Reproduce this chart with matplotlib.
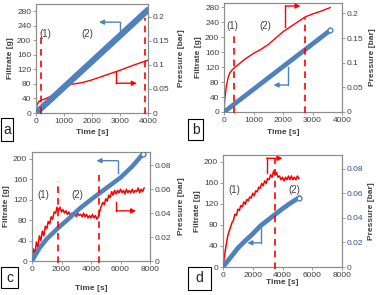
import matplotlib
matplotlib.use("Agg")
import matplotlib.pyplot as plt
from matplotlib.patches import Rectangle

plt.rcParams['font.family'] = ['Liberation Sans', 'DejaVu Sans']

# ---------------- data ----------------
# panel a
a_t_fil = [0, 4000]
a_fil = [0, 284]
a_t_p = [0, 30, 100, 200, 350, 500, 700, 950, 1100, 1300, 1500, 1700, 2000, 2500, 3000, 3500, 4000]
a_p = [0, 0.016, 0.024, 0.027, 0.030, 0.034, 0.041, 0.0515, 0.058, 0.060, 0.062, 0.064, 0.069, 0.079, 0.089, 0.100, 0.110]
a_dash = [190, 3900]

# panel b
b_t_fil = [0, 3600]
b_fil = [0, 218]
b_t_p = [0, 25, 80, 140, 200, 300, 400, 500, 700, 1000, 1250, 1500, 1750, 2000, 2300, 2500, 2750, 3000, 3300, 3600]
b_p = [0, 0.025, 0.052, 0.070, 0.080, 0.087, 0.092, 0.097, 0.107, 0.119, 0.127, 0.137, 0.150, 0.163, 0.175, 0.183, 0.193, 0.199, 0.205, 0.212]
b_dash = [340, 2760]

# panel c
c_t_fil = [0, 500, 1000, 1750, 2500, 3250, 4000, 4600, 5300, 6000, 6800, 7550]
c_fil = [0, 25, 43, 64, 83, 103, 120, 133, 148, 163, 185, 210]
c_t_p = list(range(0, 7700, 100))
c_p = [0.000, 0.010, 0.006, 0.016, 0.011, 0.021, 0.017, 0.025, 0.021, 0.029,
       0.027, 0.033, 0.031, 0.037, 0.035, 0.041, 0.040, 0.045, 0.042, 0.045,
       0.041, 0.043, 0.040, 0.042, 0.039, 0.041, 0.038, 0.040, 0.038, 0.040,
       0.037, 0.040, 0.038, 0.039, 0.037, 0.040, 0.037, 0.039, 0.036, 0.038,
       0.036, 0.039, 0.036, 0.038, 0.035, 0.037, 0.042, 0.046, 0.049, 0.047,
       0.052, 0.050, 0.055, 0.053, 0.058, 0.055, 0.059, 0.056, 0.059, 0.057,
       0.060, 0.057, 0.059, 0.056, 0.060, 0.057, 0.059, 0.057, 0.060, 0.057,
       0.059, 0.058, 0.061, 0.057, 0.060, 0.058, 0.061]
c_dash = [1730, 4550]

# panel d
d_t_fil = [0, 500, 1000, 1500, 2000, 2500, 3000, 3500, 4000, 4500, 5100]
d_fil = [0, 18, 36, 50, 63, 78, 89, 100, 111, 121, 132]
d_t_p = list(range(0, 5200, 100))
d_p = [0.000, 0.009, 0.017, 0.024, 0.029, 0.032, 0.036, 0.038, 0.043, 0.042,
       0.047, 0.046, 0.050, 0.049, 0.053, 0.051, 0.055, 0.054, 0.057, 0.056,
       0.060, 0.058, 0.062, 0.061, 0.065, 0.064, 0.068, 0.066, 0.070, 0.068,
       0.072, 0.071, 0.075, 0.073, 0.078, 0.075, 0.077, 0.073, 0.074, 0.071,
       0.073, 0.070, 0.073, 0.071, 0.074, 0.071, 0.074, 0.071, 0.073, 0.071,
       0.074, 0.072]
d_dash = [3480]

x_ticks_ab = [0, 1000, 2000, 3000, 4000]
x_ticks_cd = [0, 2000, 4000, 6000, 8000]
y_ticks_ab = [0, 40, 80, 120, 160, 200, 240, 280]
y_ticks_cd = [0, 40, 80, 120, 160, 200]
r_ticks_ab = [0, 0.05, 0.1, 0.15, 0.2]
r_labels_ab = ['0', '0.05', '0.1', '0.15', '0.2']
r_ticks_cd = [0, 0.02, 0.04, 0.06, 0.08]
r_labels_cd = ['0', '0.02', '0.04', '0.06', '0.08']

# ---------------- figure ----------------
W, H = 377, 295
fig = plt.figure(figsize=(W / 100, H / 100), dpi=100)

BLUE = '#4F81BD'
RED = '#FF0000'
GRAY = '#8C8C8C'
TXT = '#404040'


def pax(l, r, t, b):
    return fig.add_axes([l / W, 1 - b / H, (r - l) / W, (b - t) / H])


def style(ax, ax2, xlim, xt, ylim, yt, rlim, rt, rl, rcolor, xpad, rpad):
    ax.set_xlim(*xlim)
    ax.set_ylim(*ylim)
    ax2.set_ylim(*rlim)
    ax.set_xticks(xt)
    ax.set_xticklabels([str(v) for v in xt])
    ax.set_yticks(yt)
    ax2.set_yticks(rt)
    ax2.set_yticklabels(rl)
    for a in (ax, ax2):
        for s in a.spines.values():
            s.set_color(GRAY)
            s.set_linewidth(0.8)
        a.tick_params(labelsize=6, length=2, width=0.6, color=GRAY, labelcolor=TXT, pad=1.5)
    ax2.tick_params(labelcolor=rcolor)
    ax.set_xlabel('Time [s]', fontsize=6, fontweight='bold', color=TXT, labelpad=xpad)
    ax.set_ylabel('Filtrate [g]', fontsize=6, fontweight='bold', color=TXT, labelpad=2)
    ax2.set_ylabel('Pressure [bar]', fontsize=6, fontweight='bold', color=TXT, labelpad=rpad)
    ax.set_zorder(ax2.get_zorder() + 1)
    ax.patch.set_visible(False)


def arrow(ax, p0, p1, p2, color):
    ax.plot([p0[0], p1[0]], [p0[1], p1[1]], color=color, lw=1.0, zorder=6)
    ax.annotate('', xy=p2, xytext=p1,
                arrowprops=dict(arrowstyle='-|>', color=color, lw=1.0,
                                mutation_scale=7, shrinkA=0, shrinkB=0), zorder=6)


def panel(rect, xlim, xt, ylim, yt, rlim, rt, rl, tf, f, tp, p, dashes, dash_tops,
          lab1, lab2, barrow, rarrow, blw, marker_end, xpad, rpad, rcolor=TXT, rlw=1.0):
    ax = pax(*rect)
    ax2 = ax.twinx()
    style(ax, ax2, xlim, xt, ylim, yt, rlim, rt, rl, rcolor, xpad, rpad)
    ax2.plot(tp, p, color=RED, lw=rlw, zorder=3)
    ax.plot(tf, f, color=BLUE, lw=blw, solid_capstyle='round', zorder=4)
    if marker_end:
        ax.plot([tf[-1]], [f[-1]], 'o', ms=3.5, mfc='white', mec=BLUE, mew=1.0, zorder=5)
    for x, top in zip(dashes, dash_tops):
        ax.plot([x, x], [-4, top], color=RED, lw=1.2, ls=(0, (4, 3)), zorder=5, clip_on=False)
    ax.text(lab1[0], lab1[1], '(1)', fontsize=7, color=TXT, ha='center', va='center')
    ax.text(lab2[0], lab2[1], '(2)', fontsize=7, color=TXT, ha='center', va='center')
    arrow(ax, *barrow, BLUE)
    arrow(ax, *rarrow, RED)
    return ax, ax2


# a
panel((36, 148, 4, 113), (0, 4000), x_ticks_ab, (0, 300), y_ticks_ab, (0, 0.227), r_ticks_ab, r_labels_ab,
      a_t_fil, a_fil, a_t_p, a_p, a_dash, [222, 262],
      (333, 218), (1815, 218),
      ((2990, 223), (2990, 250), (2250, 250)),
      ((2860, 114), (2860, 82), (3600, 82)), 4.5, False, 3, 6)

# b
panel((224, 342, 3, 112), (0, 4000), x_ticks_ab, (0, 291), y_ticks_ab, (0, 0.2213), r_ticks_ab, r_labels_ab,
      b_t_fil, b_fil, b_t_p, b_p, b_dash, [209, 250],
      (286, 229), (1417, 229),
      ((2170, 121), (2170, 72), (1680, 72)),
      ((2080, 227), (2080, 283), (2594, 283)), 3.4, True, 4, 4)

# c
panel((32, 150, 152, 261), (0, 8000), x_ticks_cd, (0, 213), y_ticks_cd, (0, 0.0911), r_ticks_cd, r_labels_cd,
      c_t_fil, c_fil, c_t_p, c_p, c_dash, [156, 169],
      (785, 129), (3070, 129),
      ((5830, 172), (5830, 196), (4370, 196)),
      ((5720, 116), (5720, 98), (7060, 98)), 3.2, True, 9, 5, rlw=1.1)

# d
panel((223, 342, 155, 267), (0, 8000), x_ticks_cd, (0, 213.3), y_ticks_cd, (0, 0.0911), r_ticks_cd, r_labels_cd,
      d_t_fil, d_fil, d_t_p, d_p, d_dash, [208],
      (785, 147), (4780, 147),
      ((2530, 81), (2530, 46), (1640, 46)),
      ((2940, 179), (2940, 207), (4000, 207)), 3.4, True, 0, 3, rcolor='#2F4F8F', rlw=1.1)

# panel letters in boxes
for (l, t, r, b, s) in [(1, 118, 13, 141, 'a'), (188, 119, 203, 140, 'b'),
                         (1, 267, 18, 288, 'c'), (188, 267, 211, 290, 'd')]:
    fig.patches.append(Rectangle((l / W, 1 - b / H), (r - l) / W, (b - t) / H,
                                 transform=fig.transFigure, fill=True, facecolor='white',
                                 edgecolor='black', lw=0.8))
    fig.text((l + r) / 2 / W, 1 - (t + b) / 2 / H, s, fontsize=10, ha='center', va='center', color='#202020')

fig.savefig('out.png', dpi=100)
